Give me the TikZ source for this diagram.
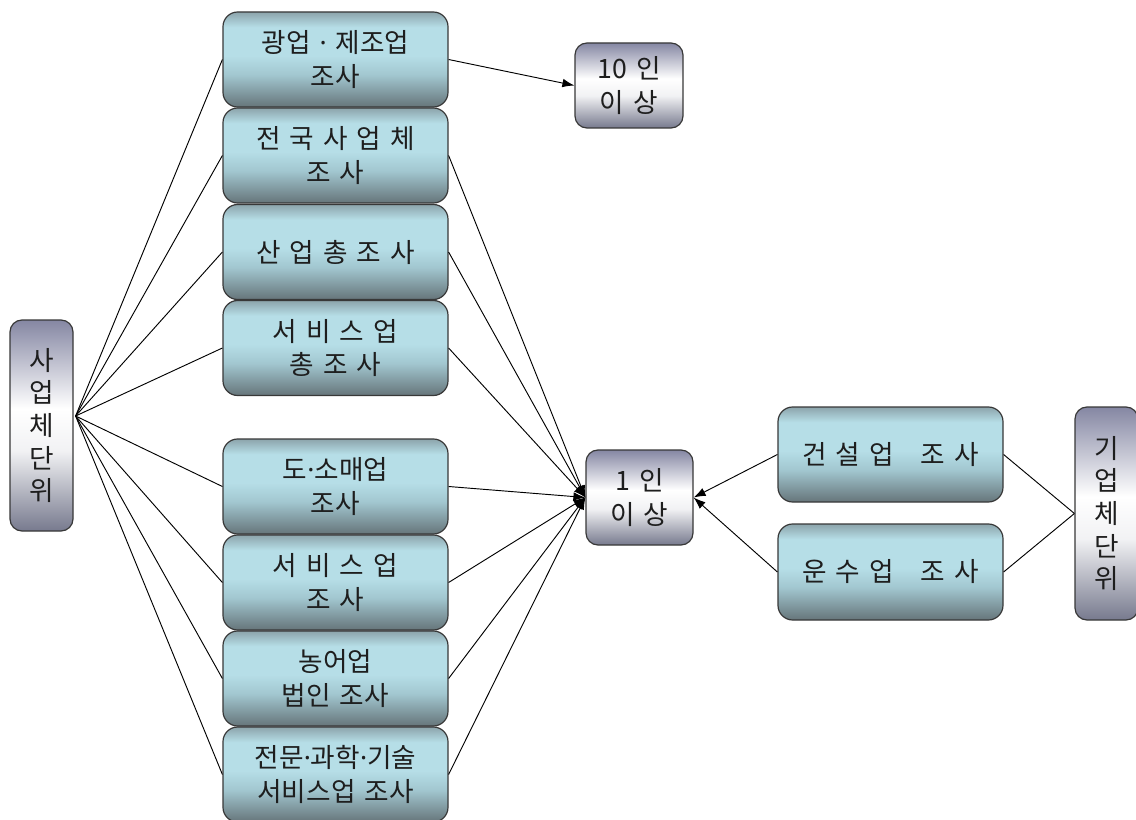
\documentclass[tikz,border=0pt]{standalone}
\usepackage{fontspec}
\setmainfont[WordSpace=1.5]{Noto Sans CJK KR}
\newfontfamily\latinf{Noto Sans}
\newcommand\mdt{{\latinf ·}}
\usetikzlibrary{arrows.meta,calc}
\newlength\pxu \setlength\pxu{0.75pt}
\definecolor{bbot}{HTML}{66757A}
\definecolor{bmid}{HTML}{A2C7D0}
\definecolor{blt}{HTML}{B6DEE7}
\definecolor{btop}{HTML}{8CA4AB}
\definecolor{gbot}{HTML}{777A8E}
\definecolor{gtop}{HTML}{8587A3}
\definecolor{bord}{HTML}{383838}
\definecolor{txt}{HTML}{1E1E1E}
\pgfdeclareverticalshading{bluebox}{100bp}{color(0bp)=(bbot); color(25bp)=(bbot); color(42bp)=(bmid); color(52bp)=(blt); color(67bp)=(blt); color(75bp)=(btop); color(100bp)=(btop)}
\pgfdeclareverticalshading{graybox}{100bp}{color(0bp)=(gbot); color(25bp)=(gbot); color(44bp)=(white!90!gbot); color(54bp)=(white); color(75bp)=(gtop); color(100bp)=(gtop)}
\tikzset{
  bbox/.style={draw=bord, line width=0.9pt, rounded corners=11pt, shade, shading=bluebox,
    minimum width=225\pxu, minimum height=95\pxu, align=center, text=txt, inner sep=0pt,
    font=\fontsize{20pt}{25pt}\selectfont},
  gbox/.style={draw=bord, line width=0.9pt, rounded corners=9pt, shade, shading=graybox,
    align=center, text=txt, inner sep=0pt, font=\fontsize{20pt}{26pt}\selectfont},
  vbox/.style={gbox, minimum width=63\pxu, font=\fontsize{20pt}{24.5pt}\selectfont},
  conn/.style={line width=0.7pt, black},
  arr/.style={conn, -{Latex[length=9pt,width=6.5pt]}}
}
\begin{document}
\begin{tikzpicture}[x=0.75pt,y=-0.75pt]
\useasboundingbox (0,0) rectangle (1136,820);
\clip (0,0) rectangle (1136,820);
% left column
\node[bbox] (b1) at (335.5,59.5) {광업 \mdt{} 제조업\\조사};
\node[bbox] (b2) at (335.5,155.5) {전 국 사 업 체\\조 사};
\node[bbox] (b3) at (335.5,252) {산 업 총 조 사};
\node[bbox] (b4) at (335.5,348) {서 비 스 업\\총 조 사};
\node[bbox] (b5) at (335.5,486.5) {도\mdt{}소매업\\조사};
\node[bbox] (b6) at (335.5,582.5) {서 비 스 업\\조 사};
\node[bbox] (b7) at (335.5,678.5) {농어업\\법인 조사};
\node[bbox] (b8) at (335.5,774.5) {전문\mdt{}과학\mdt{}기술\\서비스업 조사};
% unit boxes
\node[vbox, minimum height=211\pxu] (sa) at (41.5,425.5) {사\\업\\체\\단\\위};
\node[vbox, minimum height=213\pxu] (gi) at (1106.5,513.5) {기\\업\\체\\단\\위};
% size boxes
\node[gbox, minimum width=108\pxu, minimum height=85\pxu] (ten) at (629,85.5) {10 인\\이 상};
\node[gbox, minimum width=107\pxu, minimum height=95\pxu] (one) at (639.5,497.5) {1 인\\이 상};
% right boxes
\node[bbox] (gs) at (890.5,454.5) {건 설 업~~~조 사};
\node[bbox, minimum height=96\pxu] (us) at (890.5,572) {운 수 업~~~조 사};
% connectors from establishment unit
\coordinate (sap) at ($(sa.east)+(2,-9.5)$);
\foreach \b in {b1,b2,b3,b4,b5,b6,b7,b8}{
  \draw[conn] (sap) -- (\b.west);
}
% arrows
\draw[arr] (b1.east) -- (ten.west);
\foreach \b in {b2,b3,b4,b5,b6,b7,b8}{
  \draw[arr] (\b.east) -- (one.west);
}
\draw[arr] (gs.west) -- (one.east);
\draw[arr] (us.west) -- (one.east);
\draw[conn] (gs.east) -- (gi.west);
\draw[conn] (us.east) -- (gi.west);
\end{tikzpicture}
\end{document}
